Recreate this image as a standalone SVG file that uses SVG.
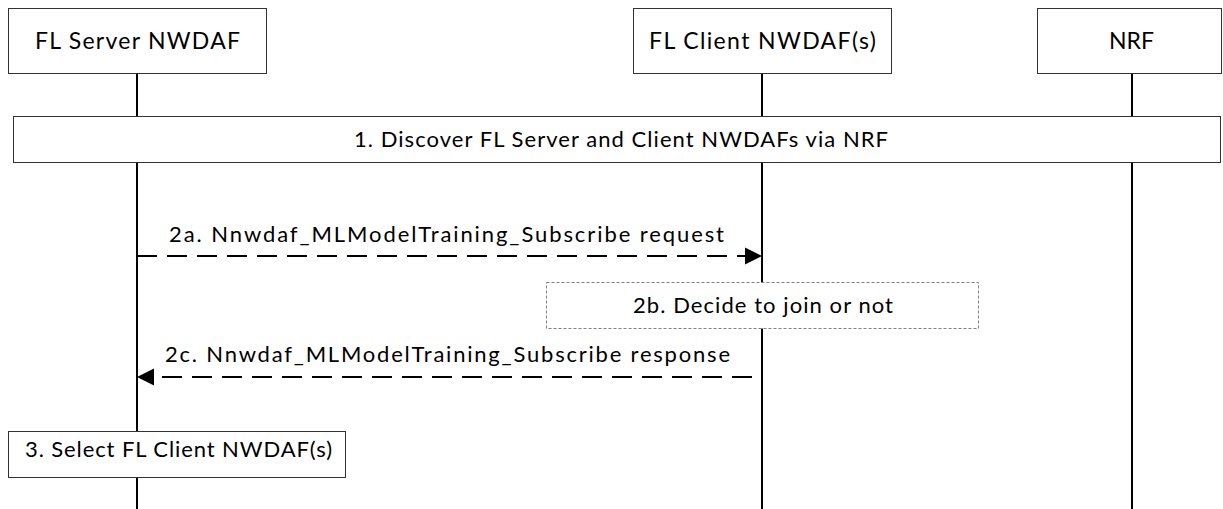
<svg xmlns="http://www.w3.org/2000/svg" width="1223" height="509" viewBox="0 0 1223 509">
<style>
.box{fill:#fff;stroke:#333;stroke-width:1}
.dbox{fill:#fff;stroke:#808080;stroke-width:1;stroke-dasharray:3 2}
.life{stroke:#000;stroke-width:2;fill:none}
.msg{stroke:#000;stroke-width:2;fill:none;stroke-dasharray:20 10}
.t{font-family:Lato,"Liberation Sans",sans-serif;font-size:22px;fill:#000}
.h{font-family:Lato,"Liberation Sans",sans-serif;font-size:23px;fill:#000}
</style>
<g id="lifelines">
<line class="life" x1="137" y1="74" x2="137" y2="509"/>
<line class="life" x1="762" y1="74" x2="762" y2="509"/>
<line class="life" x1="1132" y1="74" x2="1132" y2="509"/>
</g>
<g id="connectors">
<line class="msg" x1="137" y1="256" x2="745" y2="256"/>
<path d="M745,247.5 L762,256 L745,264.5 Z" fill="#000"/>
<line class="msg" x1="752" y1="377" x2="154" y2="377"/>
<path d="M154,368.5 L137,377 L154,385.5 Z" fill="#000"/>
<text class="t" x="169" y="242" textLength="555" lengthAdjust="spacing">2a. Nnwdaf_MLModelTraining_Subscribe request</text>
<text class="t" x="165" y="362" textLength="565" lengthAdjust="spacing">2c. Nnwdaf_MLModelTraining_Subscribe response</text>
</g>
<g id="fl-server">
<rect class="box" x="8.5" y="8.5" width="258" height="65"/>
<text class="h" x="35" y="49" textLength="205" lengthAdjust="spacing">FL Server NWDAF</text>
</g>
<g id="fl-client">
<rect class="box" x="633.5" y="8.5" width="258" height="65"/>
<text class="h" x="649" y="49" textLength="227" lengthAdjust="spacing">FL Client NWDAF(s)</text>
</g>
<g id="nrf">
<rect class="box" x="1037.5" y="8.5" width="184" height="65"/>
<text class="h" x="1109" y="49" textLength="45" lengthAdjust="spacing">NRF</text>
</g>
<g id="step1">
<rect class="box" x="13.5" y="116.5" width="1207" height="46"/>
<text class="t" x="354" y="147" textLength="534" lengthAdjust="spacing">1. Discover FL Server and Client NWDAFs via NRF</text>
</g>
<g id="step2b">
<rect class="dbox" x="546.5" y="282.5" width="432" height="46"/>
<text class="t" x="633" y="313" textLength="260" lengthAdjust="spacing">2b. Decide to join or not</text>
</g>
<g id="step3">
<rect class="box" x="8.5" y="431.5" width="337" height="46"/>
<text class="t" x="25" y="457" textLength="307" lengthAdjust="spacing">3. Select FL Client NWDAF(s)</text>
</g>
</svg>
